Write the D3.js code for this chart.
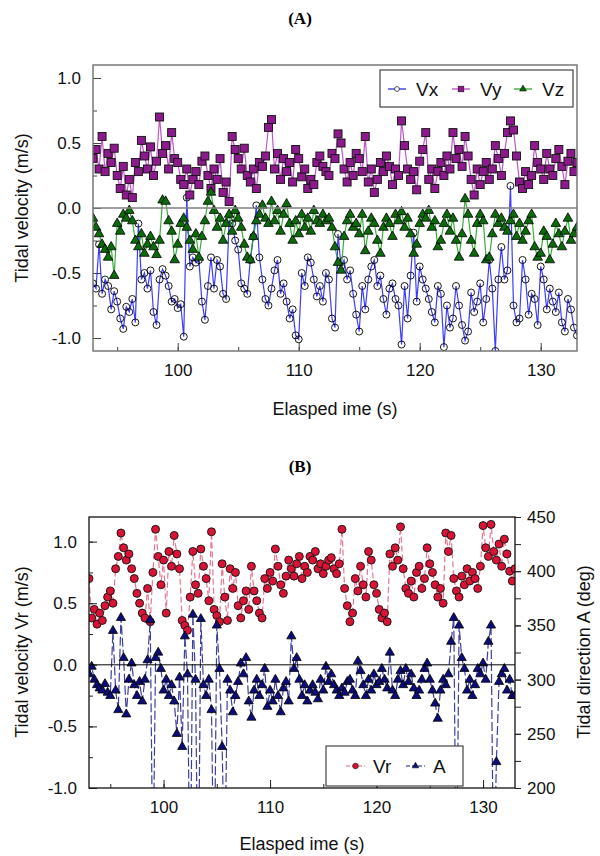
<!DOCTYPE html>
<html>
<head>
<meta charset="utf-8">
<script src="https://cdn.jsdelivr.net/npm/d3@7"></script>
<style>
  body { margin: 0; background: #fff; }
  svg { display: block; font-family: "Liberation Sans", Arial, sans-serif; }
</style>
</head>
<body>
<div id="chart"></div>
<script>
// sampling: one value every 0.25 s from 93 s to 133 s
const t0 = 93, dt = 0.25;

// panel A, tidal velocity components (m/s)
const vx = [
  -0.58,-0.62,-0.28,-0.66, -0.55,-0.60,-0.78,-0.64, -0.72,-0.85,-0.93,-0.76, -0.80,-0.70,-0.88,-0.12,
  -0.55,-0.50,-0.62,-0.48, -0.80,-0.90,-0.55,-0.47, -0.52,-0.60,-0.72,-0.70, -0.77,-0.74,-0.99,0.08,
  -0.45,-0.38,-0.42,-0.40, -0.72,-0.86,-0.60,-0.38, -0.62,-0.40,-0.45,-0.66, -0.70,-0.10,-0.12,-0.25,
  -0.32,-0.58,-0.62,-0.66, -0.40,-0.22,0.02,-0.38, -0.55,-0.70,-0.75,-0.62, -0.48,-0.40,-0.66,-0.58,
  -0.72,-0.85,-0.78,-0.98, -1.01,-0.50,-0.60,-0.38, -0.42,-0.55,-0.68,-0.60, -0.72,-0.50,-0.55,-0.85,
  -0.92,-0.20,-0.45,-0.40, -0.55,-0.48,-0.66,-0.82, -0.95,-0.60,-0.78,-0.55, -0.45,-0.40,-0.60,-0.52,
  -0.70,-0.82,-0.62,-0.58, -0.70,-0.75,-1.05,-0.60, -0.85,-0.52,-0.19,-0.72, -0.45,-0.55,-0.62,-0.70,
  -0.80,-0.88,-0.60,-0.66, -1.07,-0.75,-0.92,-0.85, -0.60,-0.75,-0.90,-1.02, -0.95,-0.65,-0.80,-0.72,
  -0.58,-0.88,-0.70,-0.40, -0.62,-1.10,-0.55,-0.30, -0.55,-0.48,0.17,-0.75, -0.88,-0.85,-0.40,-0.55,
  -0.82,-0.66,-0.70,-0.90, -0.45,-0.55,-0.78,-0.62, -0.72,-0.80,-0.65,-0.88, -0.95,-0.70,-0.78,-0.92,
  -0.98
];
const vy = [
  0.38,0.45,0.30,0.55, 0.28,0.42,0.35,0.46, 0.25,0.15,0.32,0.10, 0.22,0.08,0.35,0.28,
  0.52,0.40,0.30,0.47, 0.25,0.36,0.70,0.42, 0.48,0.30,0.58,0.38, 0.35,0.22,0.18,0.30,
  0.10,0.22,0.28,0.18, 0.36,0.40,0.25,0.15, 0.30,0.22,0.38,0.12, 0.20,0.05,0.55,0.45,
  0.38,0.30,0.46,0.25, 0.20,0.30,0.15,0.35, 0.32,0.40,0.62,0.68, 0.30,0.42,0.22,0.38,
  0.28,0.35,0.20,0.45, 0.38,0.24,0.30,0.15, 0.22,0.18,0.35,0.40, 0.32,0.28,0.25,0.42,
  0.38,0.57,0.50,0.30, 0.20,0.35,0.25,0.42, 0.38,0.28,0.55,0.20, 0.30,0.12,0.22,0.35,
  0.28,0.40,0.32,0.18, 0.30,0.25,0.67,0.48, 0.30,0.22,0.28,0.14, 0.36,0.45,0.58,0.22,
  0.30,0.15,0.28,0.35, 0.25,0.40,0.30,0.58, 0.38,0.45,0.32,0.55, 0.40,0.22,0.10,0.30,
  0.18,0.28,0.35,0.22, 0.30,0.48,0.38,0.25, 0.42,0.58,0.67,0.60, 0.40,0.20,0.15,0.28,
  0.18,0.25,0.48,0.35, 0.30,0.22,0.42,0.30, 0.25,0.38,0.45,0.32, 0.18,0.36,0.42,0.28,
  0.35
];
const vz = [
  -0.08,-0.15,-0.20,-0.28, -0.32,-0.38,-0.30,-0.52, -0.12,-0.18,-0.05,-0.08, -0.02,-0.10,-0.25,-0.30,
  -0.20,-0.35,-0.28,-0.22, -0.30,-0.36,-0.25,0.06, 0.05,-0.10,-0.18,-0.40, -0.28,-0.12,-0.08,-0.15,
  -0.25,-0.32,-0.20,-0.38, -0.22,-0.10,0.05,0.12, -0.02,-0.15,-0.08,-0.25, -0.12,-0.05,-0.18,-0.02,
  -0.08,-0.15,-0.28,-0.38, -0.40,-0.22,-0.10,-0.05, 0.02,-0.08,-0.12,0.05, -0.10,-0.02,-0.18,-0.05,
  0.03,-0.12,-0.25,-0.10, -0.20,-0.05,-0.15,-0.08, -0.18,-0.02,-0.10,-0.12, -0.05,-0.10,-0.08,-0.15,
  -0.30,-0.42,-0.48,-0.22, -0.10,-0.05,-0.15,-0.12, -0.20,-0.05,-0.33,-0.18, -0.08,-0.12,-0.25,-0.35,
  -0.15,-0.08,-0.12,-0.22, -0.05,-0.10,-0.03,-0.15, -0.08,-0.20,-0.35,-0.28, -0.12,-0.05,-0.08,-0.02,
  -0.15,-0.10,-0.30,-0.25, -0.12,-0.05,-0.18,-0.08, -0.25,-0.38,-0.20,0.07, -0.05,-0.25,-0.35,-0.12,
  -0.05,-0.10,-0.40,-0.38, -0.20,-0.05,-0.12,-0.08, -0.15,-0.18,-0.10,-0.05, -0.22,-0.12,-0.25,-0.18,
  -0.10,-0.05,-0.30,-0.38, -0.35,-0.18,-0.22,-0.40, -0.28,-0.12,-0.20,-0.30, -0.18,-0.08,-0.25,-0.20,
  -0.15
];

// panel B, resultant velocity (m/s) and direction (deg)
const vr = [
  0.70,0.38,0.45,0.33, 0.42,0.36,0.48,0.55, 0.60,0.50,0.78,0.88, 1.07,0.95,0.85,0.90,
  0.78,0.70,0.58,0.50, 0.42,0.38,0.62,0.35, 0.75,1.10,0.88,0.65, 0.85,0.42,0.92,0.80,
  1.05,0.90,0.78,0.36, 0.32,0.28,0.55,0.92, 0.65,0.58,0.94,0.80, 0.70,0.52,1.08,0.45,
  0.40,0.35,0.82,0.55, 0.36,0.78,0.62,0.75, 0.48,0.38,0.52,0.60, 0.45,0.80,0.60,0.52,
  0.42,0.38,0.70,0.62, 0.75,0.68,0.94,0.80, 0.65,0.58,0.72,0.85, 0.78,0.72,0.82,0.88,
  0.70,0.80,0.75,0.88, 0.85,0.92,0.78,0.82, 0.74,0.80,0.85,0.87, 0.78,0.74,0.82,1.10,
  0.62,0.48,0.35,0.42, 0.70,0.60,0.80,0.65, 0.55,0.92,0.85,0.65, 0.58,0.45,0.38,0.42,
  0.35,0.90,0.80,0.95, 0.85,1.12,0.78,0.62, 0.58,0.68,0.55,0.75, 0.80,0.62,0.70,0.95,
  0.82,0.75,0.65,0.55, 0.62,0.50,1.07,0.92, 1.05,0.70,0.60,0.55, 0.72,0.65,0.78,0.68,
  0.75,0.70,0.62,0.80, 1.13,0.95,0.88,1.14, 0.92,0.85,0.98,0.80, 1.02,0.90,0.76,0.68,
  0.78
];
const dirA = [
  305,312,300,295, 292,290,296,288, 285,345,290,272, 357,320,268,300,
  315,295,285,298, 280,300,318,355, 110,320,325,310, 290,300,285,295,
  280,250,302,238, 340,305,90,360, 300,80,356,295, 285,300,272,95,
  350,310,238,120, 300,290,270,285, 298,315,305,320, 280,265,290,300,
  285,295,310,275, 290,280,300,285, 270,292,298,280, 340,310,320,300,
  285,295,280,290, 295,288,282,300, 290,312,298,305, 295,290,285,292,
  288,298,300,290, 285,317,308,295, 285,300,290,305, 295,298,310,300,
  292,325,290,285, 300,308,295,310, 298,305,292,285, 290,300,310,315,
  300,290,278,264, 290,300,295,305, 335,357,90,350, 320,310,290,300,
  285,295,310,305, 315,300,335,350, 100,224,298,305, 310,290,300,285,
  285
];

const seriesA = ["Vx", "Vy", "Vz"];
const seriesB = ["Vr", "A"];

const toPts = arr => arr.map((v, i) => ({t: t0 + i * dt, v: v}));
const fmt1 = d => d.toFixed(1);

const svg = d3.select("#chart").append("svg")
    .attr("width", 600)
    .attr("height", 856);

// ---------------- panel A ----------------
const xA = d3.scaleLinear().domain([93, 133]).range([93, 577]);
const yA = d3.scaleLinear().domain([-1.1, 1.1]).range([351, 65]);

svg.append("text")
    .attr("x", 300).attr("y", 24)
    .attr("text-anchor", "middle")
    .style("font-family", "'Liberation Serif', 'Times New Roman', serif")
    .style("font-weight", "bold").style("font-size", "17px")
    .text("(A)");

svg.append("clipPath").attr("id", "clipA")
  .append("rect").attr("x", 93).attr("y", 65).attr("width", 484).attr("height", 286);

const gA = svg.append("g");

// minor + major ticks, pointing into the plot
gA.append("g").attr("transform", "translate(0,351)")
    .call(d3.axisBottom(xA).tickValues(d3.range(95, 133, 5)).tickSizeInner(-4).tickSizeOuter(0).tickFormat(""));
gA.append("g").attr("transform", "translate(0,351)")
    .call(d3.axisBottom(xA).tickValues([100, 110, 120, 130]).tickSizeInner(-8).tickSizeOuter(0).tickPadding(13));
gA.append("g").attr("transform", "translate(93,0)")
    .call(d3.axisLeft(yA).tickValues(d3.range(-1, 1.01, 0.25)).tickSizeInner(-4).tickSizeOuter(0).tickFormat(""));
gA.append("g").attr("transform", "translate(93,0)")
    .call(d3.axisLeft(yA).tickValues([-1, -0.5, 0, 0.5, 1]).tickSizeInner(-8).tickSizeOuter(0).tickPadding(12).tickFormat(fmt1));
gA.selectAll(".domain").remove();
gA.selectAll(".tick line").attr("stroke", "#444");
gA.selectAll(".tick text").style("font-size", "17px").attr("fill", "#111");

const plotA = gA.append("g").attr("clip-path", "url(#clipA)");

const stylesA = {
  Vx: {data: vx, line: "#1a1aff", fill: "none", shape: "circle"},
  Vy: {data: vy, line: "#b03cc0", fill: "#8c1a8c", shape: "square"},
  Vz: {data: vz, line: "#1aa01a", fill: "#0b6b0b", shape: "triangle"}
};

function marker(sel, shape, fill) {
  if (shape === "circle") {
    sel.append("circle").attr("r", 3.5).attr("fill", fill).attr("stroke", "#000").attr("stroke-width", 0.9);
  } else if (shape === "square") {
    sel.append("rect").attr("x", -4).attr("y", -4).attr("width", 8).attr("height", 8)
        .attr("fill", fill).attr("stroke", "#111").attr("stroke-width", 0.9);
  } else {
    sel.append("path").attr("d", d3.symbol(d3.symbolTriangle, 40)())
        .attr("fill", fill).attr("stroke", "#000").attr("stroke-width", 0.8);
  }
}

seriesA.forEach(name => {
  const s = stylesA[name];
  const pts = toPts(s.data);
  const line = d3.line().x(d => xA(d.t)).y(d => yA(d.v));
  plotA.append("path").datum(pts)
      .attr("d", line)
      .attr("fill", "none")
      .attr("stroke", s.line)
      .attr("stroke-width", 1.2)
      .attr("stroke-opacity", 0.85);
  plotA.append("g").selectAll("g")
      .data(pts)
      .join("g")
      .attr("transform", d => `translate(${xA(d.t)},${yA(d.v)})`)
      .each(function() { marker(d3.select(this), s.shape, s.fill); });
});

// zero line, drawn over the data
gA.append("line")
    .attr("x1", xA(93)).attr("x2", xA(133))
    .attr("y1", yA(0)).attr("y2", yA(0))
    .attr("stroke", "#808080").attr("stroke-width", 1.4);

// frame
gA.append("rect")
    .attr("x", 93).attr("y", 65).attr("width", 484).attr("height", 286)
    .attr("fill", "none").attr("stroke", "#6e6e6e").attr("stroke-width", 1.4);

// legend A
const legA = gA.append("g");
legA.append("rect")
    .attr("x", 380).attr("y", 70).attr("width", 193).attr("height", 37)
    .attr("fill", "#fff").attr("stroke", "#444").attr("stroke-width", 1.2);
const legAx = [388, 452, 514];
seriesA.forEach((name, i) => {
  const s = stylesA[name];
  const g = legA.append("g").attr("transform", `translate(${legAx[i]},89)`);
  g.append("line").attr("x1", 0).attr("x2", 18).attr("stroke", s.line).attr("stroke-width", 1.2);
  const m = g.append("g").attr("transform", "translate(9,0) scale(0.7)");
  marker(m, s.shape, s.shape === "circle" ? "#fff" : s.fill);
  g.append("text").attr("x", 28).attr("y", 7)
      .style("font-size", "19px").attr("fill", "#111").text(name);
});

// axis titles A
svg.append("text")
    .attr("x", 335).attr("y", 415)
    .attr("text-anchor", "middle").style("font-size", "18px").attr("fill", "#111")
    .text("Elasped ime (s)");
svg.append("text")
    .attr("transform", "translate(28,208) rotate(-90)")
    .attr("text-anchor", "middle").style("font-size", "18px").attr("fill", "#111")
    .text("Tidal velocity (m/s)");

// ---------------- panel B ----------------
const xB = d3.scaleLinear().domain([93, 133]).range([89, 515]);
const yB = d3.scaleLinear().domain([-1.0, 1.2]).range([788, 517]);
const yB2 = d3.scaleLinear().domain([200, 450]).range([788, 517]);

svg.append("text")
    .attr("x", 300).attr("y", 472)
    .attr("text-anchor", "middle")
    .style("font-family", "'Liberation Serif', 'Times New Roman', serif")
    .style("font-weight", "bold").style("font-size", "17px")
    .text("(B)");

svg.append("clipPath").attr("id", "clipB")
  .append("rect").attr("x", 89).attr("y", 517).attr("width", 426).attr("height", 271);

const gB = svg.append("g");

gB.append("g").attr("transform", "translate(0,788)")
    .call(d3.axisBottom(xB).tickValues(d3.range(95, 133, 5)).tickSizeInner(-4).tickSizeOuter(0).tickFormat(""));
gB.append("g").attr("transform", "translate(0,788)")
    .call(d3.axisBottom(xB).tickValues([100, 110, 120, 130]).tickSizeInner(-8).tickSizeOuter(0).tickPadding(13));
gB.append("g").attr("transform", "translate(89,0)")
    .call(d3.axisLeft(yB).tickValues(d3.range(-1, 1.01, 0.25)).tickSizeInner(-4).tickSizeOuter(0).tickFormat(""));
gB.append("g").attr("transform", "translate(89,0)")
    .call(d3.axisLeft(yB).tickValues([-1, -0.5, 0, 0.5, 1]).tickSizeInner(-8).tickSizeOuter(0).tickPadding(12).tickFormat(fmt1));
gB.append("g").attr("transform", "translate(515,0)")
    .call(d3.axisRight(yB2).tickValues(d3.range(200, 451, 25)).tickSizeInner(6).tickSizeOuter(0).tickFormat(""));
gB.append("g").attr("transform", "translate(515,0)")
    .call(d3.axisRight(yB2).tickValues(d3.range(200, 451, 50)).tickSizeInner(6).tickSizeOuter(0).tickPadding(6));
gB.selectAll(".domain").remove();
gB.selectAll(".tick line").attr("stroke", "#222");
gB.selectAll(".tick text").style("font-size", "17px").attr("fill", "#111");

const plotB = gB.append("g").attr("clip-path", "url(#clipB)");

const stylesB = {
  Vr: {data: vr, y: yB, line: "#e0607e", fill: "#d81436", shape: "circle", dash: "6,3"},
  A: {data: dirA, y: yB2, line: "#1c1c8c", fill: "#0c0c78", shape: "triangle", dash: "9,3"}
};

function markerB(sel, shape, fill) {
  if (shape === "circle") {
    sel.append("circle").attr("r", 4).attr("fill", fill).attr("stroke", "#111").attr("stroke-width", 0.9);
  } else {
    sel.append("path").attr("d", d3.symbol(d3.symbolTriangle, 36)())
        .attr("fill", fill).attr("stroke", "#000").attr("stroke-width", 0.8);
  }
}

seriesB.forEach(name => {
  const s = stylesB[name];
  const pts = toPts(s.data);
  const line = d3.line().x(d => xB(d.t)).y(d => s.y(d.v));
  plotB.append("path").datum(pts)
      .attr("d", line)
      .attr("fill", "none")
      .attr("stroke", s.line)
      .attr("stroke-width", 1.2)
      .attr("stroke-dasharray", s.dash)
      .attr("stroke-opacity", 0.85);
  plotB.append("g").selectAll("g")
      .data(pts)
      .join("g")
      .attr("transform", d => `translate(${xB(d.t)},${s.y(d.v)})`)
      .each(function() { markerB(d3.select(this), s.shape, s.fill); });
});

gB.append("line")
    .attr("x1", xB(93)).attr("x2", xB(133))
    .attr("y1", yB(0)).attr("y2", yB(0))
    .attr("stroke", "#000").attr("stroke-width", 1);

gB.append("rect")
    .attr("x", 89).attr("y", 517).attr("width", 426).attr("height", 271)
    .attr("fill", "none").attr("stroke", "#111").attr("stroke-width", 1.3);

// legend B
const legB = gB.append("g");
legB.append("rect")
    .attr("x", 326).attr("y", 746).attr("width", 137).attr("height", 40)
    .attr("fill", "#fff").attr("stroke", "#444").attr("stroke-width", 1.2);
const legBx = [346, 406];
seriesB.forEach((name, i) => {
  const s = stylesB[name];
  const g = legB.append("g").attr("transform", `translate(${legBx[i]},766)`);
  g.append("line").attr("x1", 0).attr("x2", 19)
      .attr("stroke", s.line).attr("stroke-width", 1.2).attr("stroke-dasharray", "4,2");
  const m = g.append("g").attr("transform", "translate(9.5,0) scale(0.7)");
  markerB(m, s.shape, s.fill);
  g.append("text").attr("x", 27).attr("y", 7)
      .style("font-size", "19px").attr("fill", "#111").text(name);
});

svg.append("text")
    .attr("x", 302).attr("y", 850)
    .attr("text-anchor", "middle").style("font-size", "18px").attr("fill", "#111")
    .text("Elasped ime (s)");
svg.append("text")
    .attr("transform", "translate(28,652) rotate(-90)")
    .attr("text-anchor", "middle").style("font-size", "18px").attr("fill", "#111")
    .text("Tidal velocity Vr (m/s)");
svg.append("text")
    .attr("transform", "translate(590,652) rotate(-90)")
    .attr("text-anchor", "middle").style("font-size", "18px").attr("fill", "#111")
    .text("Tidal direction A (deg)");
</script>
</body>
</html>
